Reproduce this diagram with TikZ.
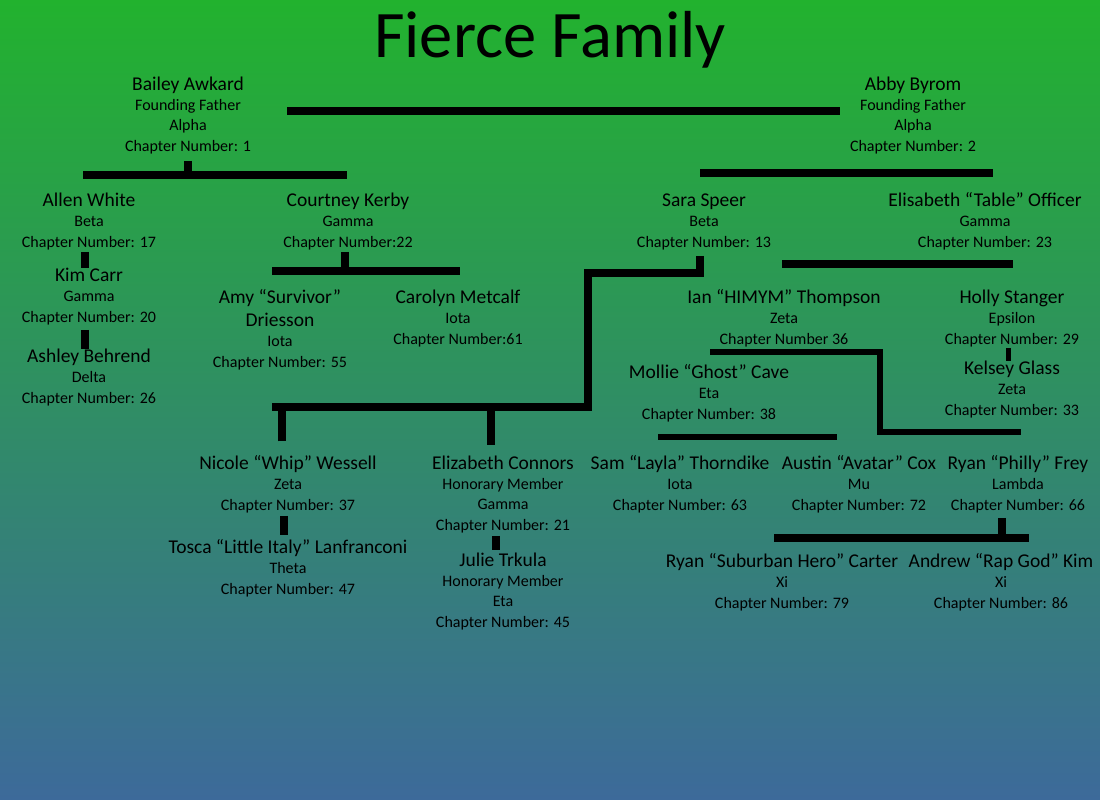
\documentclass[tikz,border=0pt]{standalone}
\usepackage{fontspec}
\setmainfont{Carlito}
\definecolor{bgtop}{RGB}{34,178,46}
\definecolor{bgbottom}{RGB}{61,106,154}
\tikzset{
	person/.style={align=center, anchor=base, inner sep=0pt, yshift=-1pt, font=\fontsize{16}{20.2}\selectfont},
	bar/.style={line width=8pt},
	thinbar/.style={line width=5.5pt},
}
\newcommand{\pname}[1]{{\fontsize{19.5}{20.2}\selectfont #1}}
\begin{document}
\begin{tikzpicture}[x=1pt, y=-1pt, line join=miter]
	\shade[top color=bgtop, bottom color=bgbottom] (0,0) rectangle (1100,800);
	\useasboundingbox (0,0) rectangle (1100,800);
	\node[anchor=base, inner sep=0pt, font=\fontsize{66.5}{66.5}\selectfont] (title) at (550,58) {Fierce Family};
	% founders (placed at the baseline of the last line)
	\node[person] (bailey) at (188,150) {\pname{Bailey Awkard}\\Founding Father\\Alpha\\Chapter Number: 1};
	\node[person] (abby) at (913,150) {\pname{Abby Byrom}\\Founding Father\\Alpha\\Chapter Number: 2};
	% second row
	\node[person] (allen) at (89,246) {\pname{Allen White}\\Beta\\Chapter Number: 17};
	\node[person] (kim) at (89,321) {\pname{Kim Carr}\\Gamma\\Chapter Number: 20};
	\node[person] (ashley) at (89,402) {\pname{Ashley Behrend}\\Delta\\Chapter Number: 26};
	\node[person] (courtney) at (348,246) {\pname{Courtney Kerby}\\Gamma\\Chapter Number:22};
	\node[person] (amy) at (280,366) {\pname{Amy “Survivor”}\\[3pt]\pname{Driesson}\\Iota\\Chapter Number: 55};
	\node[person] (carolyn) at (458,343) {\pname{Carolyn Metcalf}\\Iota\\Chapter Number:61};
	\node[person] (sara) at (704,246) {\pname{Sara Speer}\\Beta\\Chapter Number: 13};
	\node[person] (elisabeth) at (985,246) {\pname{Elisabeth “Table” Officer}\\Gamma\\Chapter Number: 23};
	\node[person] (ian) at (784,343) {\pname{Ian “HIMYM” Thompson}\\Zeta\\Chapter Number 36};
	\node[person] (holly) at (1012,343) {\pname{Holly Stanger}\\Epsilon\\Chapter Number: 29};
	\node[person] (kelsey) at (1012,414) {\pname{Kelsey Glass}\\Zeta\\Chapter Number: 33};
	\node[person] (mollie) at (709,418) {\pname{Mollie “Ghost” Cave}\\Eta\\Chapter Number: 38};
	% lower rows
	\node[person] (nicole) at (288,509) {\pname{Nicole “Whip” Wessell}\\Zeta\\Chapter Number: 37};
	\node[person] (tosca) at (288,593) {\pname{Tosca “Little Italy” Lanfranconi}\\Theta\\Chapter Number: 47};
	\node[person] (connors) at (503,529) {\pname{Elizabeth Connors}\\Honorary Member\\Gamma\\Chapter Number: 21};
	\node[person] (julie) at (503,626) {\pname{Julie Trkula}\\Honorary Member\\Eta\\Chapter Number: 45};
	\node[person] (sam) at (680,509) {\pname{Sam “Layla” Thorndike}\\Iota\\Chapter Number: 63};
	\node[person] (austin) at (859,509) {\pname{Austin “Avatar” Cox}\\Mu\\Chapter Number: 72};
	\node[person] (frey) at (1018,509) {\pname{Ryan “Philly” Frey}\\Lambda\\Chapter Number: 66};
	\node[person] (carter) at (782,607) {\pname{Ryan “Suburban Hero” Carter}\\Xi\\Chapter Number: 79};
	\node[person] (andrew) at (1001,607) {\pname{Andrew “Rap God” Kim}\\Xi\\Chapter Number: 86};
	% bar ends
	\path
	(287,111) coordinate (wedL) (840,111) coordinate (wedR)
	(83,175) coordinate (baileyL) (347,175) coordinate (baileyR)
	(700,173) coordinate (abbyL) (993,173) coordinate (abbyR)
	(272,271) coordinate (courtL) (460,271) coordinate (courtR)
	(700,273) coordinate (saraA) (588,273) coordinate (saraB) (588,407) coordinate (saraC) (272,407) coordinate (saraD)
	(782,264) coordinate (elisL) (1013,264) coordinate (elisR)
	(710,352) coordinate (ianA) (880,352) coordinate (ianB) (880,432) coordinate (ianC) (1021,432) coordinate (ianD)
	(658,437) coordinate (mollL) (837,437) coordinate (mollR)
	(774,538) coordinate (freyL) (1029,538) coordinate (freyR)
	;
	\draw[bar] (wedL)--(wedR);
	\draw[bar] (baileyL)--(baileyR);
	\draw[bar] ([yshift=-7pt]bailey.south)--(bailey.south|-baileyR);
	\draw[bar] (abbyL)--(abbyR);
	\draw[bar] ([xshift=-4pt,yshift=-2pt]allen.south)--([xshift=-4pt]kim.north);
	\draw[bar] ([xshift=-4pt,yshift=-5pt]kim.south)--([xshift=-4pt]ashley.north);
	\draw[bar] (courtL)--(courtR);
	\draw[bar] ([xshift=-3pt,yshift=-2pt]courtney.south)--([xshift=-3pt]courtney.south|-courtR);
	\draw[bar] ([yshift=-6pt]sara.south-|saraA)--(saraA)--(saraB)--(saraC)--(saraD);
	\draw[bar] ([yshift=14pt]nicole.north-|282,0)--(saraD-|282,0);
	\draw[bar] ([yshift=11pt]connors.north-|491,0)--(saraD-|491,0);
	\draw[bar] (elisL)--(elisR);
	\draw[thinbar] (ianA)--(ianB)--(ianC)--(ianD);
	\draw[line width=5pt] ([xshift=-4pt,yshift=-1pt]holly.south)--([xshift=-4pt]kelsey.north);
	\draw[line width=6pt] (mollL)--(mollR);
	\draw[bar] (freyL)--(freyR);
	\draw[bar] ([xshift=-16pt,yshift=-5pt]frey.south)--([xshift=-16pt]frey.south|-freyR);
	\draw[bar] ([xshift=-4pt,yshift=-3pt]nicole.south)--([xshift=-4pt,yshift=4pt]tosca.north);
	\draw[bar] ([xshift=-7pt,yshift=-3pt]connors.south)--([xshift=-7pt,yshift=3pt]julie.north);
\end{tikzpicture}
\end{document}
